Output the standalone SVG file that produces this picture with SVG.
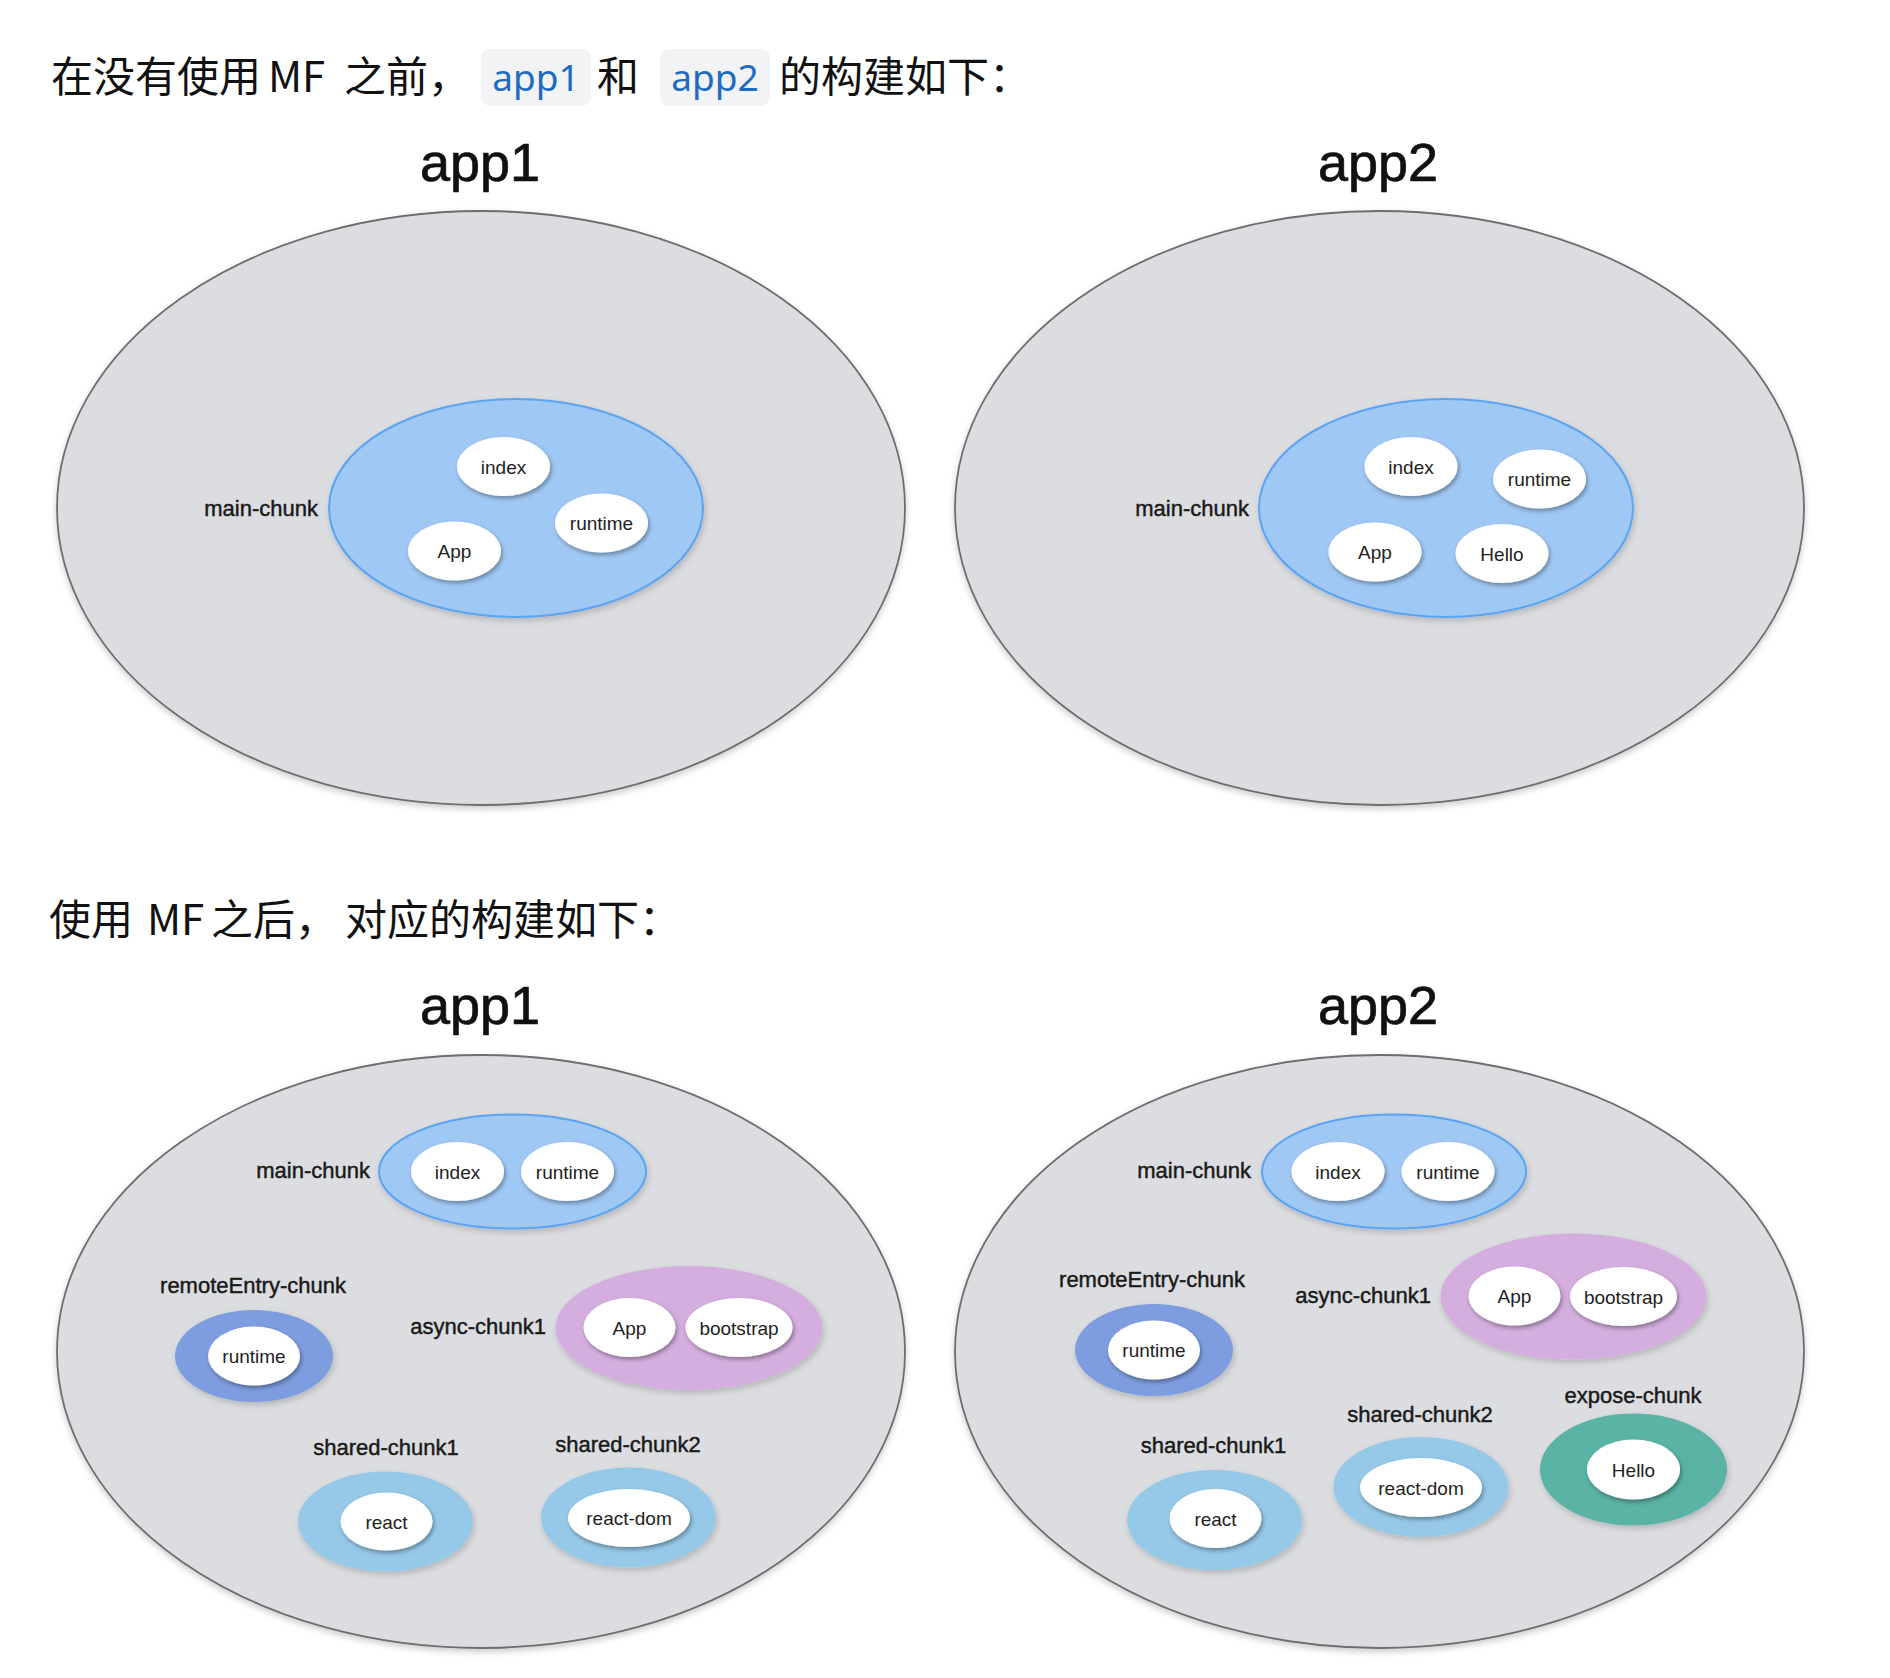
<svg xmlns="http://www.w3.org/2000/svg" width="1890" height="1678" viewBox="0 0 1890 1678">
<defs>
<filter id="shNode" x="-30%" y="-30%" width="160%" height="170%">
<feDropShadow dx="1.5" dy="2.5" stdDeviation="2" flood-color="#000" flood-opacity="0.35"/>
</filter>
<filter id="shChunk" x="-20%" y="-20%" width="140%" height="150%">
<feDropShadow dx="1.5" dy="3" stdDeviation="3" flood-color="#000" flood-opacity="0.18"/>
</filter>
<filter id="shApp" x="-5%" y="-5%" width="110%" height="112%">
<feDropShadow dx="0" dy="3" stdDeviation="3" flood-color="#000" flood-opacity="0.2"/>
</filter>
</defs>
<style>
.head{font-family:"Noto Sans CJK SC","Noto Sans",sans-serif;font-size:42px;fill:#111}
.code{font-family:"Noto Sans","Open Sans",sans-serif;font-size:37px;fill:#1f6bbf}
.codebox{fill:#f2f3f5}
.title{font-family:"Liberation Sans",Arial,sans-serif;font-size:54px;fill:#111;stroke:#111;stroke-width:0.7;text-anchor:middle}
.app{fill:#dcdde0;stroke:#6e6e6e;stroke-width:1.8;filter:url(#shApp)}
.main{fill:#a0c8f4;stroke:#5aa3f5;stroke-width:2;filter:url(#shChunk)}
.remote{fill:#7e9de0;filter:url(#shChunk)}
.async{fill:#d3aede;filter:url(#shChunk)}
.shared{fill:#96c8e8;filter:url(#shChunk)}
.expose{fill:#5ab3a5;filter:url(#shChunk)}
.node{fill:#fff;filter:url(#shNode)}
.nt{font-family:"Liberation Sans",Arial,sans-serif;font-size:19px;fill:#222;text-anchor:middle}
.lbl{font-family:"Liberation Sans",Arial,sans-serif;font-size:22px;fill:#1a1a1a;stroke:#1a1a1a;stroke-width:0.45}
.end{text-anchor:end}
.mid{text-anchor:middle}
</style>
<rect width="1890" height="1678" fill="#fff"/>

<g id="heading1">
<rect class="codebox" x="481" y="49" width="110" height="57" rx="9"/>
<rect class="codebox" x="660" y="49" width="110" height="57" rx="9"/>
<text class="head" y="92"><tspan x="51">在没有使用</tspan><tspan x="268">MF</tspan><tspan x="344">之前，</tspan><tspan x="597">和</tspan><tspan x="779">的构建如下：</tspan></text>
<text class="code" x="536" y="91" text-anchor="middle">app1</text>
<text class="code" x="715" y="91" text-anchor="middle">app2</text>
</g>

<g id="before-app1">
<text class="title" x="480" y="181">app1</text>
<ellipse class="app" cx="481" cy="508" rx="424" ry="297"/>
<g id="before-app1-main">
<ellipse class="main" cx="516" cy="508" rx="187" ry="109"/>
<text class="lbl end" x="318" y="516">main-chunk</text>
<ellipse class="node" cx="503.5" cy="466.5" rx="46.5" ry="29.5"/>
<text class="nt" x="503.5" y="473.5">index</text>
<ellipse class="node" cx="601.5" cy="523" rx="46.5" ry="29.5"/>
<text class="nt" x="601.5" y="530">runtime</text>
<ellipse class="node" cx="454.5" cy="551" rx="46.5" ry="29.5"/>
<text class="nt" x="454.5" y="558">App</text>
</g>
</g>

<g id="before-app2">
<text class="title" x="1378" y="181">app2</text>
<ellipse class="app" cx="1379.5" cy="508" rx="424.5" ry="297"/>
<g id="before-app2-main">
<ellipse class="main" cx="1446" cy="508" rx="187" ry="109"/>
<text class="lbl end" x="1249" y="516">main-chunk</text>
<ellipse class="node" cx="1411" cy="466.5" rx="46.5" ry="29.5"/>
<text class="nt" x="1411" y="473.5">index</text>
<ellipse class="node" cx="1539.5" cy="479" rx="46.5" ry="29.5"/>
<text class="nt" x="1539.5" y="486">runtime</text>
<ellipse class="node" cx="1375" cy="552" rx="46.5" ry="29.5"/>
<text class="nt" x="1375" y="559">App</text>
<ellipse class="node" cx="1502" cy="553.5" rx="46.5" ry="29.5"/>
<text class="nt" x="1502" y="560.5">Hello</text>
</g>
</g>

<g id="heading2">
<text class="head" y="935"><tspan x="49">使用</tspan><tspan x="147">MF</tspan><tspan x="211">之后，</tspan><tspan x="345">对应的构建如下：</tspan></text>
</g>

<g id="after-app1">
<text class="title" x="480" y="1024">app1</text>
<ellipse class="app" cx="481" cy="1351.5" rx="424" ry="296.5"/>
<g id="after-app1-main">
<ellipse class="main" cx="512.5" cy="1171.5" rx="133.5" ry="57"/>
<text class="lbl end" x="370" y="1178">main-chunk</text>
<ellipse class="node" cx="457.5" cy="1171.5" rx="46.5" ry="29.5"/>
<text class="nt" x="457.5" y="1178.5">index</text>
<ellipse class="node" cx="567.5" cy="1171.5" rx="46.5" ry="29.5"/>
<text class="nt" x="567.5" y="1178.5">runtime</text>
</g>
<g id="after-app1-remote">
<text class="lbl mid" x="253" y="1293">remoteEntry-chunk</text>
<ellipse class="remote" cx="254" cy="1356" rx="79" ry="46"/>
<ellipse class="node" cx="254" cy="1356" rx="46" ry="29.5"/>
<text class="nt" x="254" y="1363">runtime</text>
</g>
<g id="after-app1-async">
<text class="lbl end" x="546" y="1334">async-chunk1</text>
<ellipse class="async" cx="689" cy="1328" rx="133.5" ry="62"/>
<ellipse class="node" cx="629.5" cy="1327.5" rx="46" ry="29.5"/>
<text class="nt" x="629.5" y="1334.5">App</text>
<ellipse class="node" cx="739" cy="1327.5" rx="53.5" ry="29.5"/>
<text class="nt" x="739" y="1334.5">bootstrap</text>
</g>
<g id="after-app1-shared1">
<text class="lbl mid" x="386" y="1455">shared-chunk1</text>
<ellipse class="shared" cx="385.5" cy="1521.5" rx="87.5" ry="50"/>
<ellipse class="node" cx="386.5" cy="1521.5" rx="46" ry="29"/>
<text class="nt" x="386.5" y="1528.5">react</text>
</g>
<g id="after-app1-shared2">
<text class="lbl mid" x="628" y="1452">shared-chunk2</text>
<ellipse class="shared" cx="628.5" cy="1517.5" rx="87.5" ry="50"/>
<ellipse class="node" cx="629" cy="1518" rx="61" ry="29"/>
<text class="nt" x="629" y="1525">react-dom</text>
</g>
</g>

<g id="after-app2">
<text class="title" x="1378" y="1024">app2</text>
<ellipse class="app" cx="1379.5" cy="1351.5" rx="424.5" ry="296.5"/>
<g id="after-app2-main">
<ellipse class="main" cx="1394" cy="1171.5" rx="132" ry="57"/>
<text class="lbl end" x="1251" y="1178">main-chunk</text>
<ellipse class="node" cx="1338" cy="1171.5" rx="46.5" ry="29.5"/>
<text class="nt" x="1338" y="1178.5">index</text>
<ellipse class="node" cx="1448" cy="1171.5" rx="46.5" ry="29.5"/>
<text class="nt" x="1448" y="1178.5">runtime</text>
</g>
<g id="after-app2-remote">
<text class="lbl mid" x="1152" y="1287">remoteEntry-chunk</text>
<ellipse class="remote" cx="1154" cy="1350" rx="79" ry="46"/>
<ellipse class="node" cx="1154" cy="1350" rx="46" ry="29.5"/>
<text class="nt" x="1154" y="1357">runtime</text>
</g>
<g id="after-app2-async">
<text class="lbl end" x="1431" y="1303">async-chunk1</text>
<ellipse class="async" cx="1573.5" cy="1296.5" rx="133" ry="63"/>
<ellipse class="node" cx="1514.5" cy="1296" rx="46" ry="29.5"/>
<text class="nt" x="1514.5" y="1303">App</text>
<ellipse class="node" cx="1623.5" cy="1296.5" rx="53.5" ry="29.5"/>
<text class="nt" x="1623.5" y="1303.5">bootstrap</text>
</g>
<g id="after-app2-shared1">
<text class="lbl mid" x="1213.5" y="1453">shared-chunk1</text>
<ellipse class="shared" cx="1214.5" cy="1520" rx="87.5" ry="50"/>
<ellipse class="node" cx="1215.5" cy="1518.5" rx="46" ry="29.5"/>
<text class="nt" x="1215.5" y="1525.5">react</text>
</g>
<g id="after-app2-shared2">
<text class="lbl mid" x="1420" y="1422">shared-chunk2</text>
<ellipse class="shared" cx="1421" cy="1487" rx="87.5" ry="50"/>
<ellipse class="node" cx="1421" cy="1487.5" rx="61" ry="29.5"/>
<text class="nt" x="1421" y="1494.5">react-dom</text>
</g>
<g id="after-app2-expose">
<text class="lbl mid" x="1633" y="1403">expose-chunk</text>
<ellipse class="expose" cx="1633.5" cy="1469.5" rx="93.5" ry="56"/>
<ellipse class="node" cx="1633.5" cy="1469.5" rx="46.5" ry="30"/>
<text class="nt" x="1633.5" y="1476.5">Hello</text>
</g>
</g>

<g id="connectors"/>
</svg>
